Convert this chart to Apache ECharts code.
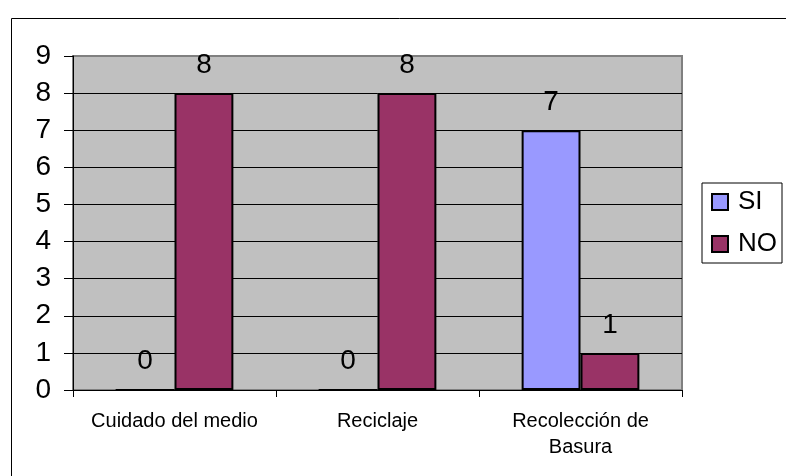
<!DOCTYPE html>
<html lang="es">
  <head>
    <meta charset="UTF-8" />
    <title>Encuesta</title>
    <script src="https://cdn.jsdelivr.net/npm/echarts@6/dist/echarts.min.js"></script>
    <style>
      html, body { margin: 0; padding: 0; background: #fff; }
      .echarts { width: 786px; height: 476px; }
    </style>
  </head>
  <body>
    <div class="echarts"></div>
    <script>
      const categories = ['Cuidado del medio', 'Reciclaje', 'Recolección de\nBasura']
      const si = [0, 0, 7]
      const no = [8, 8, 1]
      const yTicks = [0, 1, 2, 3, 4, 5, 6, 7, 8, 9]

      const font = 'Liberation Sans, Arial, sans-serif'
      const myCharts = echarts.init(document.querySelector('.echarts'))

      // la linea del 9 es el borde gris del area, las demas negras
      const splitColors = yTicks.map(v => (v === 9 ? '#808080' : '#000'))

      const barLabel = {
        show: true,
        position: 'top',
        distance: 14,
        fontSize: 28,
        color: '#000',
        fontFamily: font
      }

      const option = {
        animation: false,
        textStyle: { fontFamily: font },
        graphic: [{
          type: 'rect',
          z: -10,
          shape: { x: 11.5, y: 18.5, width: 900, height: 600 },
          style: { fill: 'none', stroke: '#000', lineWidth: 1 }
        }],
        grid: {
          left: 73, top: 56, right: 104, bottom: 86,
          show: true,
          backgroundColor: '#C0C0C0',
          borderColor: '#808080',
          borderWidth: 2
        },
        legend: {
          orient: 'vertical',
          left: 702, top: 183,
          padding: [6, 5, 6, 9],
          borderColor: '#000', borderWidth: 1,
          itemWidth: 16, itemHeight: 16, itemGap: 16,
          icon: 'rect',
          textStyle: { fontSize: 26, color: '#000', fontFamily: font, padding: [0, 0, 0, 5] },
          data: ['SI', 'NO']
        },
        xAxis: {
          type: 'category',
          data: categories,
          axisLine: { show: true, lineStyle: { color: '#000', width: 1 } },
          axisTick: { show: true, length: 7, lineStyle: { color: '#000' } },
          axisLabel: { fontSize: 20, color: '#000', margin: 18, lineHeight: 26, fontFamily: font, interval: 0 }
        },
        yAxis: {
          type: 'value',
          min: 0, max: 9, interval: 1,
          axisLine: { show: true, lineStyle: { color: '#000', width: 1 } },
          axisTick: { show: true, length: 9, lineStyle: { color: '#000' } },
          axisLabel: { fontSize: 28, color: '#000', margin: 22, fontFamily: font },
          splitLine: { show: true, lineStyle: { color: splitColors, width: 1 } }
        },
        series: [
          {
            name: 'SI', type: 'bar', data: si,
            barGap: '0%', barCategoryGap: '42%',
            itemStyle: { color: '#9999FF', borderColor: '#000', borderWidth: 2 },
            label: barLabel
          },
          {
            name: 'NO', type: 'bar', data: no,
            itemStyle: { color: '#993366', borderColor: '#000', borderWidth: 2 },
            label: barLabel
          }
        ]
      }
      myCharts.setOption(option)
    </script>
  </body>
</html>
